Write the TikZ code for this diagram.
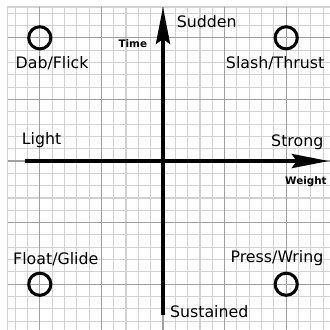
\documentclass[tikz,border=0pt]{standalone}
\usepackage{fontspec}
\setmainfont{DejaVu Sans}
\usetikzlibrary{arrows.meta,positioning}
\definecolor{GridMinor}{HTML}{D2D2D2}
\definecolor{GridMajor}{HTML}{A0A0A0}

\tikzset{
    effort/.style={draw,circle,line width=1.4pt,minimum size=0.36cm,inner sep=0pt},
    quality/.style={font=\fontsize{7.3}{9}\selectfont,inner sep=0pt},
    factor/.style={font=\fontsize{4.8}{6}\selectfont\bfseries,inner sep=0pt},
    axisline/.style={line width=1.5pt,-{Stealth[length=6mm,width=2.3mm,inset=0.8mm]}}
}

\begin{document}
\begin{tikzpicture}
    \useasboundingbox (-2.646,-2.727) rectangle (2.711,2.614);
    \clip (-2.646,-2.727) rectangle (2.711,2.614);

    % background grid
    \draw[GridMinor,line width=0.5pt,step=0.2] (-2.52,-2.8) grid (2.8,2.5);
    \draw[GridMinor,line width=0.5pt] (-2.52,-2.8) -- (-2.52,2.5) -- (2.8,2.5);
    \draw[GridMajor,line width=0.5pt,step=1] (-2.52,-2.8) grid (2.8,2.5);

    % axes
    \coordinate (lightend) at (-2.24,0);
    \coordinate (strongend) at (2.69,0);
    \coordinate (sustainedend) at (0,-2.5);
    \coordinate (suddenend) at (0,2.5);
    \draw[axisline] (lightend) -- (strongend);
    \draw[axisline] (sustainedend) -- (suddenend);

    % pole labels
    \node[quality] (sudden) at (0.71,2.26) {Sudden};
    \node[quality] (sustained) at (0.75,-2.45) {Sustained};
    \node[quality] (light) at (-1.97,0.34) {Light};
    \node[quality] (strong) at (2.18,0.31) {Strong};
    \node[factor] (time) at (-0.49,1.90) {Time};
    \node[factor] (weight) at (2.32,-0.34) {Weight};

    % efforts
    \node[effort] (dab) at (-2,2) {};
    \node[effort] (slash) at (2,2) {};
    \node[effort] (float) at (-2,-2) {};
    \node[effort] (press) at (2,-2) {};
    \node[quality] (dablabel) at (-1.80,1.59) {Dab/Flick};
    \node[quality] (slashlabel) at (1.82,1.59) {Slash/Thrust};
    \node[quality] (floatlabel) at (-1.74,-1.59) {Float/Glide};
    \node[quality] (presslabel) at (1.85,-1.57) {Press/Wring};
\end{tikzpicture}
\end{document}
